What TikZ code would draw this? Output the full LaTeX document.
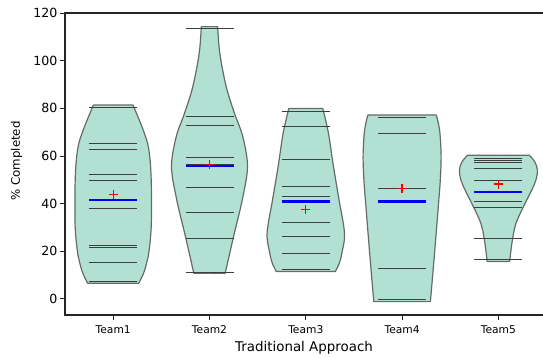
\documentclass[tikz,border=0pt]{standalone}
\usepackage{fontspec}
\setmainfont{DejaVu Sans}
\usepackage{xcolor}

\definecolor{violinbody}{RGB}{178,224,210}
\definecolor{violinline}{RGB}{100,108,104}
\definecolor{datumgray}{RGB}{62,62,62}

% one violin: centre, top, bottom, right-hand profile (half width, value)
\newcommand{\violin}[4]{%
  \foreach \s in {1,-1}{
    \begin{scope}[shift={(#1,0)}, xscale=\s]
      \fill[body] (-1,#2) -- plot[smooth, tension=0.55] coordinates {#4} -- (-1,#3) -- cycle;
    \end{scope}
  }
  \foreach \s in {1,-1}{
    \begin{scope}[shift={(#1,0)}, xscale=\s]
      \draw[edge] (0,#2) -- plot[smooth, tension=0.55] coordinates {#4} -- (0,#3);
    \end{scope}
  }%
}
% data lines, median and mean of one team
\newcommand{\teamstats}[4]{%
  \foreach \v in {#2} \draw[datum] ({#1-24},\v) -- ({#1+24},\v);
  \draw[median] ({#1-24},#3) -- ({#1+24},#3);
  \draw[meanmark] (#1,#4) +(-4.5pt,0) -- +(4.5pt,0) +(0,-4.5pt) -- +(0,4.5pt);
}

\begin{document}
\begin{tikzpicture}[x=1pt, y=1pt,
  body/.style={fill=violinbody},
  edge/.style={draw=violinline, line width=1.2pt, line join=round},
  datum/.style={draw=datumgray, line width=1pt},
  median/.style={draw=blue, line width=2.6pt},
  meanmark/.style={draw=red, line width=1.3pt},
  spine/.style={draw=black!85, line width=1.1pt},
  tickmark/.style={draw=black!85, line width=1pt},
  yticklabel/.style={anchor=east, inner sep=0pt, font=\fontsize{12.6}{14}\selectfont},
  xticklabel/.style={anchor=center, inner sep=0pt, font=\fontsize{10.7}{12}\selectfont},
  axislabel/.style={anchor=center, inner sep=0pt, font=\fontsize{13.4}{15}\selectfont}]

\useasboundingbox (0,0) rectangle (543,358);

\begin{scope}[y=2.383pt, yshift=59pt]
% violins
\violin{113.2}{81.4}{6.6}{(19.8,81.4) (29.3,71.7) (34.6,64.9) (37,57.8) (38,50) (38.3,40) (38,30) (36.6,22.7) (35.3,18.5) (31,11.5) (25.5,6.6)}
\violin{209.5}{114.3}{10.8}{(8.2,114.3) (10.3,103.1) (16.7,89.1) (25,77.9) (33.3,68.1) (38,55.5) (32.7,41.5) (24,26.1) (15.7,10.8)}
\violin{305.8}{79.9}{11.5}{(17,79.9) (22.7,69.5) (27.7,55.5) (33.3,41.5) (38.7,27.6) (36,19.2) (33.5,15) (29.5,11.5)}
\violin{402.1}{77.2}{-1.1}{(34.2,77.2) (37.5,70.9) (39,60.4) (38.2,50) (36.3,39.4) (32.3,18.5) (28.3,-1.1)}
\violin{498.4}{60.3}{15.7}{(31,60.3) (36.5,57.5) (39,54.1) (37.5,49.9) (33.3,45.7) (25,38.7) (17.6,31.8) (14,24.8) (11.2,15.7)}

% data lines, medians, means
\teamstats{113.2}{80.5,65.3,62.7,52.3,49.7,37.9,22.3,21.5,15.4,7.2}{41.5}{43.9}
\teamstats{209.5}{113.4,76.7,72.9,59.3,56.4,46.9,36.2,25.5,11.2}{55.8}{56.4}
\teamstats{305.8}{78.8,72.2,58.6,47.3,42.9,32.2,26.3,19.1,18.9,12.4}{40.9}{37.5}
\teamstats{402.1}{76.1,69.5,46.5,12.6,-0.1}{40.9}{46.5}
\teamstats{498.4}{58.8,58.0,57.2,54.7,49.8,40.9,38.5,25.2,16.5}{44.9}{48.2}

% y ticks
\foreach \v in {0,20,...,120}{
  \draw[tickmark] (60,\v) -- (65,\v);
  \node[yticklabel] (ytick\v) at (57.5,\v) {\v};
}
\end{scope}

% axes
\draw[spine] (543,345) -- (65,345) -- (65,43) -- (543,43);

% x ticks
\foreach \i/\x in {1/113.2,2/209.5,3/305.8,4/402.1,5/498.4}{
  \draw[tickmark] (\x,43) -- (\x,38);
  \node[xticklabel] (xtick\i) at (\x,28) {Team\i};
}

\node[axislabel] (xtitle) at (304,10.5) {Traditional Approach};
\node[axislabel, rotate=90, font=\fontsize{11.8}{14}\selectfont] (ytitle) at (16.5,197) {\% Completed};

\end{tikzpicture}
\end{document}
